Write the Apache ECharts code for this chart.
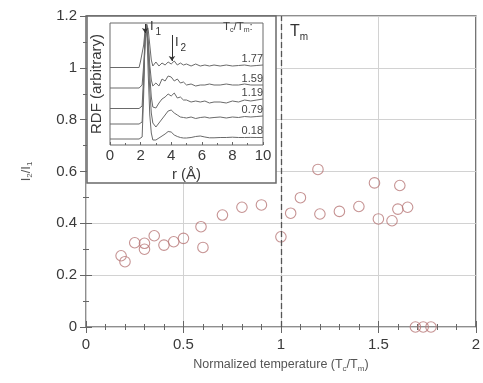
<!DOCTYPE html>
<html>
<head>
<meta charset="utf-8">
<script src="https://cdn.jsdelivr.net/npm/echarts@6/dist/echarts.min.js"></script>
<style>html,body{margin:0;padding:0;background:#fff;}#c{width:483px;height:383px;}</style>
</head>
<body>
<div id="c"></div>
<script>
// Main scatter: normalized temperature vs I2/I1
const tNorm = [0.18, 0.20, 0.25, 0.30, 0.30, 0.35, 0.40, 0.45, 0.50, 0.59, 0.60, 0.70, 0.80, 0.90, 1.00, 1.05, 1.10, 1.19, 1.20, 1.30, 1.40, 1.48, 1.50, 1.57, 1.60, 1.61, 1.65, 1.69, 1.73, 1.77];
const ratio = [0.275, 0.252, 0.325, 0.323, 0.300, 0.352, 0.316, 0.329, 0.342, 0.387, 0.307, 0.432, 0.462, 0.471, 0.348, 0.439, 0.499, 0.608, 0.436, 0.446, 0.465, 0.556, 0.417, 0.410, 0.455, 0.546, 0.462, 0, 0, 0];
const xTicks = [0, 0.5, 1, 1.5, 2];
const yTicks = [0, 0.2, 0.4, 0.6, 0.8, 1, 1.2];

// Inset: RDF curves (arbitrary units, vertically offset)
const rVals = [0, 1.9, 2.0, 2.1, 2.2, 2.3, 2.4, 2.5, 2.6, 2.7, 2.8, 3.0, 3.2, 3.4, 3.6, 3.8, 4.0, 4.2, 4.4, 4.6, 4.8, 5.0, 5.3, 5.6, 5.9, 6.2, 6.5, 6.8, 7.2, 7.6, 8.0, 8.4, 8.8, 9.2, 9.6, 10.0];
const rdfLabels = ['0.18', '0.79', '1.19', '1.59', '1.77'];
const rdf018 = [0.6, 0.6, 0.6, 0.8, 5.0, 11.5, 12.0, 7.0, 3.0, 1.2, 0.5, 0.5, 0.7, 0.9, 1.1, 1.35, 1.3, 1.0, 0.85, 0.75, 0.7, 0.7, 0.75, 0.85, 0.9, 0.8, 0.72, 0.72, 0.75, 0.75, 0.78, 0.75, 0.75, 0.76, 0.75, 0.75];
const rdf079 = [2.1, 2.1, 2.1, 2.3, 6.0, 11.0, 11.8, 9.0, 5.5, 3.2, 2.2, 1.8, 2.2, 2.6, 3.0, 3.4, 3.5, 3.2, 3.0, 2.8, 2.75, 2.7, 2.8, 2.65, 2.75, 2.8, 2.7, 2.75, 2.8, 2.7, 2.8, 2.75, 2.85, 2.8, 2.85, 2.9];
const rdf119 = [3.65, 3.65, 3.65, 3.9, 7.0, 10.5, 11.5, 10.0, 7.0, 4.8, 3.8, 3.7, 4.2, 4.6, 4.8, 5.1, 4.9, 5.2, 4.7, 4.8, 4.5, 4.5, 4.3, 4.4, 4.3, 4.4, 4.2, 4.3, 4.3, 4.2, 4.4, 4.3, 4.5, 4.4, 4.5, 4.6];
const rdf159 = [5.7, 5.7, 5.7, 6.0, 8.0, 10.8, 11.8, 10.5, 8.0, 6.5, 5.9, 6.2, 5.9, 6.6, 6.4, 6.9, 6.8, 6.4, 6.6, 6.2, 6.3, 6.0, 6.1, 5.9, 6.0, 6.0, 6.1, 6.0, 6.0, 6.1, 6.0, 6.0, 6.1, 6.0, 6.0, 6.0];
const rdf177 = [7.75, 7.75, 8.4, 8.6, 10.0, 11.6, 12.1, 11.5, 10.0, 8.5, 7.9, 8.3, 7.9, 8.2, 8.0, 8.3, 8.1, 8.4, 8.0, 8.2, 8.0, 8.1, 7.9, 8.1, 7.9, 8.0, 7.9, 8.0, 7.9, 8.0, 7.9, 7.95, 8.0, 7.9, 7.95, 8.0];
const rdfSets = [rdf018, rdf079, rdf119, rdf159, rdf177];
const rTicks = [0, 2, 4, 6, 8, 10];

const FONT = 'Arial, "Liberation Sans", sans-serif';
const chart = echarts.init(document.getElementById('c'), null, {renderer: 'canvas'});

const insetSeries = rdfSets.map((g, k) => ({
  type: 'line',
  name: rdfLabels[k],
  xAxisIndex: 2, yAxisIndex: 2,
  z: 22,
  showSymbol: false,
  symbol: 'none',
  silent: true,
  animation: false,
  data: rVals.map((r, i) => [r, g[i]]),
  lineStyle: {color: '#6a6a6a', width: 1},
  endLabel: {
    show: true, formatter: rdfLabels[k], fontFamily: FONT, fontSize: 11, color: '#444',
    align: 'right', verticalAlign: 'bottom', offset: [-8, -1]
  }
}));
// arrows for I1 and I2
insetSeries[0].markLine = {
  silent: true, animation: false, z: 28,
  symbol: ['none', 'arrow'], symbolSize: 5,
  lineStyle: {color: '#333', width: 1, type: 'solid'},
  label: {show: false},
  data: [
    [{coord: [2.3, 12.1]}, {coord: [2.3, 11.2]}],
    [{coord: [4.05, 11.0]}, {coord: [4.05, 8.4]}]
  ]
};

const option = {
  animation: false,
  textStyle: {fontFamily: FONT},
  grid: [
    {left: 86, right: 5, top: 16, bottom: 56, show: true, borderColor: '#6a6a6a', borderWidth: 1.5, z: 0},
    {left: 110, right: 220, top: 23, bottom: 238, show: true, borderColor: '#6a6a6a', borderWidth: 1, z: 20}
  ],
  xAxis: [
    {
      type: 'value', gridIndex: 0, min: 0, max: 2, interval: 0.5,
      axisLine: {show: false},
      axisTick: {show: true, inside: true, length: 6, lineStyle: {color: '#666'}},
      minorTick: {show: true, splitNumber: 5, length: 3, lineStyle: {color: '#666'}},
      splitLine: {show: true, lineStyle: {color: '#d2d2d2', width: 1}},
      axisLabel: {fontSize: 15, color: '#3a3a3a', margin: 10, fontFamily: FONT},
      name: 'Normalized temperature (T{s|c}/T{s|m})',
      nameLocation: 'middle', nameGap: 30,
      nameTextStyle: {fontSize: 12.5, color: '#555', fontFamily: FONT,
        rich: {s: {fontSize: 8, color: '#555', padding: [8, 0, 0, 0]}}}
    },
    {
      type: 'value', gridIndex: 0, min: 0, max: 2, interval: 0.5, position: 'top',
      axisLine: {show: false},
      axisTick: {show: true, inside: true, length: 6, lineStyle: {color: '#666'}},
      minorTick: {show: true, splitNumber: 5, length: 3, lineStyle: {color: '#666'}},
      splitLine: {show: false}, axisLabel: {show: false}
    },
    {
      type: 'value', gridIndex: 1, min: 0, max: 10, interval: 2, z: 21,
      axisLine: {show: false},
      axisTick: {show: true, inside: true, length: 3, lineStyle: {color: '#666'}},
      minorTick: {show: true, splitNumber: 2, length: 2, lineStyle: {color: '#666'}},
      splitLine: {show: false},
      axisLabel: {fontSize: 15, color: '#3a3a3a', margin: 3, fontFamily: FONT},
      name: 'r (Å)', nameLocation: 'middle', nameGap: 22,
      nameTextStyle: {fontSize: 15, color: '#3a3a3a', fontFamily: FONT}
    }
  ],
  yAxis: [
    {
      type: 'value', gridIndex: 0, min: 0, max: 1.2, interval: 0.2,
      axisLine: {show: false},
      axisTick: {show: true, inside: true, length: 6, lineStyle: {color: '#666'}},
      minorTick: {show: true, splitNumber: 2, length: 3, lineStyle: {color: '#666'}},
      splitLine: {show: true, lineStyle: {color: '#d2d2d2', width: 1}},
      axisLabel: {fontSize: 15, color: '#3a3a3a', margin: 9, fontFamily: FONT},
      name: 'I{s|2}/I{s|1}', nameLocation: 'middle', nameGap: 52, nameRotate: 90,
      nameTextStyle: {fontSize: 13, color: '#555', fontFamily: FONT,
        rich: {s: {fontSize: 8, color: '#555', padding: [8, 0, 0, 0]}}}
    },
    {
      type: 'value', gridIndex: 0, min: 0, max: 1.2, interval: 0.2, position: 'right',
      axisLine: {show: false},
      axisTick: {show: true, inside: true, length: 6, lineStyle: {color: '#666'}},
      minorTick: {show: true, splitNumber: 2, length: 3, lineStyle: {color: '#666'}},
      splitLine: {show: false}, axisLabel: {show: false}
    },
    {
      type: 'value', gridIndex: 1, min: 0, max: 12.2, z: 21,
      axisLine: {show: false}, axisTick: {show: false}, splitLine: {show: false},
      axisLabel: {show: false},
      name: 'RDF (arbitrary)', nameLocation: 'middle', nameGap: 6, nameRotate: 90,
      nameTextStyle: {fontSize: 15, color: '#3a3a3a', fontFamily: FONT}
    }
  ],
  graphic: {
    elements: [
      {type: 'rect', z: 10, shape: {x: 87, y: 16, width: 189, height: 167},
        style: {fill: '#fff', stroke: '#6a6a6a', lineWidth: 1.5}},
      {type: 'text', z: 30, left: 290, top: 24,
        style: {text: 'T{s|m}', fontSize: 16, fill: '#333', fontFamily: FONT,
          rich: {s: {fontSize: 10, fill: '#333', padding: [10, 0, 0, 0]}}}},
      {type: 'text', z: 30, left: 223, top: 21,
        style: {text: 'T{s|c}/T{s|m}:', fontSize: 11.5, fill: '#444', fontFamily: FONT,
          rich: {s: {fontSize: 7, fill: '#444', padding: [6, 0, 0, 0]}}}},
      {type: 'text', z: 30, left: 150, top: 20,
        style: {text: 'I{s|1}', fontSize: 13, fill: '#333', fontFamily: FONT,
          rich: {s: {fontSize: 10, fill: '#333', padding: [12, 0, 0, 2]}}}},
      {type: 'text', z: 30, left: 175, top: 36,
        style: {text: 'I{s|2}', fontSize: 13, fill: '#333', fontFamily: FONT,
          rich: {s: {fontSize: 10, fill: '#333', padding: [12, 0, 0, 2]}}}}
    ]
  },
  series: [
    {
      type: 'scatter', xAxisIndex: 0, yAxisIndex: 0, z: 3,
      symbol: 'circle', symbolSize: 10.5,
      data: tNorm.map((t, i) => [t, ratio[i]]),
      itemStyle: {color: 'rgba(255,255,255,0)', borderColor: '#b87878', borderWidth: 1.1},
      markLine: {
        silent: true, animation: false, symbol: ['none', 'none'],
        lineStyle: {color: '#555', width: 1.3, type: [6, 3]},
        label: {show: false},
        data: [{xAxis: 1}]
      }
    }
  ].concat(insetSeries)
};
chart.setOption(option);
</script>
</body>
</html>
